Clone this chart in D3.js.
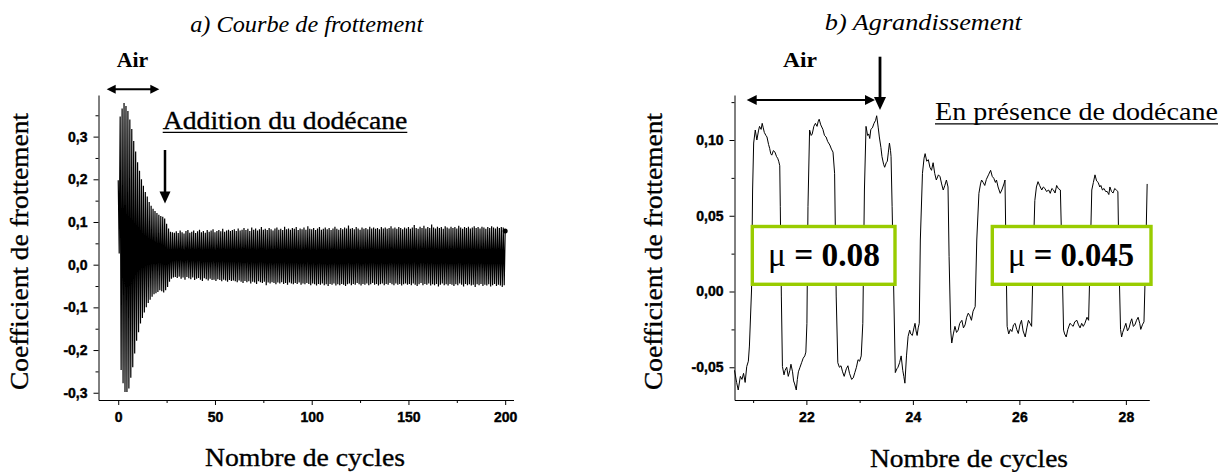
<!DOCTYPE html>
<html>
<head>
<meta charset="utf-8">
<script src="https://cdn.jsdelivr.net/npm/d3@7"></script>
<style>
  body { margin: 0; background: #fff; }
  .serif { font-family: "Liberation Serif", "Times New Roman", serif; fill: #000; }
  .heavy { stroke: #000; stroke-width: 0.35px; }
  .axis path, .axis line { stroke: #000; }
</style>
</head>
<body>
<svg id="fig" width="1222" height="472"></svg>
<script>
// ---- data, left panel: peak values of each cycle (cycles 0..200)
var leftUpper = [
  0.198,0.347,0.366,0.379,0.372,0.360,0.340,0.318,0.290,0.265,
  0.240,0.220,0.200,0.185,0.170,0.160,0.147,0.138,0.131,0.126,
  0.121,0.117,0.114,0.112,0.108,0.096,0.085,0.077,0.076,0.075,
  0.078,0.074,0.080,0.076,0.073,0.079,0.081,0.075,0.077,0.080,
  0.074,0.078,0.082,0.076,0.079,0.075,0.081,0.077,0.080,0.083,
  0.076,0.079,0.081,0.078,0.084,0.077,0.080,0.082,0.079,0.081,
  0.083,0.079,0.085,0.080,0.082,0.086,0.081,0.084,0.079,0.087,
  0.082,0.085,0.080,0.083,0.088,0.082,0.084,0.081,0.086,0.083,
  0.080,0.085,0.087,0.082,0.084,0.081,0.089,0.083,0.085,0.082,
  0.086,0.084,0.088,0.081,0.085,0.083,0.087,0.082,0.090,0.084,
  0.083,0.086,0.081,0.085,0.088,0.082,0.084,0.087,0.083,0.086,
  0.081,0.085,0.089,0.084,0.082,0.086,0.083,0.087,0.085,0.092,
  0.084,0.086,0.083,0.088,0.085,0.082,0.087,0.084,0.086,0.083,
  0.089,0.085,0.087,0.084,0.086,0.083,0.088,0.085,0.087,0.084,
  0.086,0.090,0.085,0.087,0.084,0.088,0.086,0.083,0.087,0.085,
  0.088,0.084,0.087,0.093,0.086,0.084,0.089,0.086,0.091,0.085,
  0.088,0.086,0.094,0.087,0.085,0.089,0.086,0.088,0.084,0.090,
  0.087,0.085,0.089,0.086,0.088,0.085,0.091,0.087,0.084,0.088,
  0.086,0.089,0.085,0.087,0.090,0.086,0.088,0.085,0.089,0.087,
  0.084,0.088,0.086,0.090,0.087,0.085,0.089,0.086,0.088,0.087,
  0.079
];
var leftLower = [
  0.026,-0.247,-0.278,-0.298,-0.298,-0.290,-0.265,-0.240,-0.208,-0.178,
  -0.158,-0.138,-0.125,-0.112,-0.100,-0.090,-0.082,-0.075,-0.069,-0.067,
  -0.064,-0.060,-0.062,-0.065,-0.060,-0.052,-0.040,-0.033,-0.030,-0.029,
  -0.031,-0.028,-0.033,-0.030,-0.035,-0.029,-0.032,-0.034,-0.030,-0.036,
  -0.033,-0.031,-0.035,-0.038,-0.032,-0.034,-0.037,-0.033,-0.036,-0.035,
  -0.038,-0.034,-0.036,-0.039,-0.035,-0.037,-0.040,-0.036,-0.038,-0.037,
  -0.039,-0.041,-0.037,-0.040,-0.043,-0.038,-0.041,-0.039,-0.044,-0.040,
  -0.042,-0.045,-0.039,-0.041,-0.043,-0.040,-0.048,-0.042,-0.044,-0.041,
  -0.043,-0.046,-0.042,-0.044,-0.041,-0.045,-0.043,-0.047,-0.042,-0.044,
  -0.046,-0.043,-0.045,-0.042,-0.047,-0.044,-0.046,-0.043,-0.045,-0.048,
  -0.044,-0.046,-0.049,-0.045,-0.047,-0.044,-0.048,-0.046,-0.050,-0.045,
  -0.047,-0.044,-0.049,-0.046,-0.048,-0.045,-0.047,-0.050,-0.046,-0.044,
  -0.048,-0.045,-0.047,-0.043,-0.046,-0.049,-0.045,-0.047,-0.044,-0.048,
  -0.046,-0.043,-0.047,-0.045,-0.049,-0.046,-0.044,-0.048,-0.045,-0.047,
  -0.043,-0.046,-0.048,-0.044,-0.047,-0.045,-0.049,-0.046,-0.044,-0.047,
  -0.045,-0.048,-0.044,-0.047,-0.050,-0.046,-0.043,-0.048,-0.045,-0.047,
  -0.044,-0.049,-0.046,-0.048,-0.045,-0.051,-0.047,-0.044,-0.048,-0.046,
  -0.049,-0.045,-0.047,-0.050,-0.046,-0.048,-0.044,-0.047,-0.051,-0.045,
  -0.048,-0.046,-0.049,-0.047,-0.052,-0.046,-0.048,-0.045,-0.050,-0.047,
  -0.049,-0.046,-0.051,-0.048,-0.045,-0.050,-0.047,-0.049,-0.052,-0.048,
  -0.046
];
var leftXTicks = [0, 50, 100, 150, 200];
var leftXMinor = [25, 75, 125, 175];
var leftYTicks = [-0.3, -0.2, -0.1, 0.0, 0.1, 0.2, 0.3];
var leftYMinor = [-0.25, -0.15, -0.05, 0.05, 0.15, 0.25, 0.35];

// ---- data, right panel (zoom on cycles 20.6 - 28.4)
var rightCycles = [
  20.65,20.69,20.72,20.76,20.79,20.82,20.85,20.88,20.91,20.93,20.97,20.99,21.01,21.04,21.07,21.10,21.12,21.15,21.17,21.19,
  21.21,21.24,21.26,21.29,21.31,21.33,21.35,21.38,21.41,21.44,21.46,21.48,21.50,21.51,21.53,21.55,21.58,21.60,21.63,21.66,
  21.69,21.71,21.74,21.76,21.78,21.81,21.83,21.85,21.88,21.91,21.94,21.97,21.99,22.01,22.03,22.06,22.09,22.11,22.14,22.17,
  22.20,22.22,22.24,22.27,22.31,22.34,22.37,22.40,22.44,22.47,22.50,22.53,22.56,22.59,22.62,22.65,22.68,22.71,22.75,22.78,
  22.81,22.85,22.88,22.91,22.94,22.97,23.00,23.03,23.06,23.09,23.12,23.15,23.17,23.19,23.21,23.24,23.27,23.30,23.32,23.35,
  23.37,23.40,23.42,23.45,23.47,23.50,23.52,23.54,23.56,23.58,23.59,23.61,23.64,23.67,23.70,23.72,23.75,23.78,23.81,23.83,
  23.85,23.88,23.91,23.94,23.96,23.99,24.02,24.04,24.06,24.08,24.10,24.12,24.14,24.18,24.21,24.23,24.26,24.29,24.32,24.35,
  24.38,24.41,24.44,24.48,24.51,24.54,24.57,24.60,24.63,24.66,24.68,24.71,24.73,24.76,24.79,24.82,24.85,24.88,24.92,24.95,
  24.98,25.01,25.04,25.07,25.10,25.13,25.17,25.20,25.24,25.27,25.29,25.32,25.35,25.38,25.42,25.46,25.49,25.52,25.55,25.57,
  25.60,25.64,25.67,25.69,25.71,25.73,25.75,25.77,25.80,25.83,25.86,25.89,25.92,25.95,25.98,26.01,26.04,26.07,26.11,26.14,
  26.17,26.20,26.23,26.26,26.29,26.32,26.35,26.38,26.42,26.45,26.48,26.51,26.55,26.58,26.61,26.64,26.67,26.70,26.73,26.77,
  26.80,26.83,26.85,26.88,26.91,26.95,26.98,27.01,27.04,27.08,27.11,27.14,27.17,27.20,27.23,27.27,27.30,27.33,27.36,27.39,
  27.42,27.45,27.48,27.51,27.53,27.56,27.59,27.62,27.65,27.68,27.70,27.73,27.76,27.79,27.82,27.85,27.87,27.90,27.92,27.94,
  27.97,28.00,28.03,28.06,28.09,28.11,28.14,28.17,28.20,28.23,28.26,28.28,28.31,28.34,28.37,28.40
];
var rightValues = [
  -0.052,-0.060,-0.065,-0.056,-0.058,-0.054,-0.060,-0.0495,-0.046,-0.036,0.001,0.067,0.098,0.1066,0.100,0.106,0.109,0.107,0.111,0.108,
  0.105,0.103,0.102,0.097,0.0945,0.091,0.090,0.093,0.092,0.089,0.088,0.086,0.083,0.056,-0.003,-0.0495,-0.055,-0.052,-0.050,-0.056,
  -0.052,-0.048,-0.053,-0.059,-0.061,-0.065,-0.058,-0.053,-0.050,-0.047,-0.044,-0.0425,-0.040,-0.021,0.056,0.1066,0.103,0.104,0.109,0.111,
  0.109,0.112,0.1137,0.110,0.107,0.103,0.102,0.099,0.0967,0.094,0.092,0.078,-0.003,-0.047,-0.050,-0.049,-0.053,-0.056,-0.051,-0.049,
  -0.054,-0.058,-0.057,-0.0535,-0.050,-0.045,-0.046,-0.0425,-0.021,0.067,0.109,0.103,0.104,0.101,0.107,0.108,0.111,0.113,0.116,0.108,
  0.102,0.095,0.089,0.084,0.082,0.085,0.086,0.092,0.098,0.093,0.089,0.056,0.001,-0.0535,-0.051,-0.050,-0.047,-0.0425,-0.052,-0.056,
  -0.0605,-0.0425,-0.0297,-0.0255,-0.028,-0.029,-0.024,-0.021,-0.026,-0.029,-0.024,-0.021,0.034,0.078,0.088,0.091,0.086,0.087,0.082,0.080,
  0.085,0.078,0.0736,0.077,0.0758,0.071,0.067,0.070,0.0736,0.069,0.023,-0.0255,-0.034,-0.028,-0.023,-0.027,-0.0255,-0.021,-0.019,-0.024,
  -0.022,-0.017,-0.0143,-0.016,-0.019,-0.013,-0.010,0.034,0.0648,0.071,0.0736,0.072,0.070,0.074,0.077,0.080,0.076,0.0747,0.072,0.0736,
  0.069,0.0648,0.067,0.069,0.071,0.0736,0.023,-0.023,-0.028,-0.025,-0.0264,-0.022,-0.021,-0.025,-0.0277,-0.022,-0.019,-0.026,-0.030,-0.024,
  -0.019,-0.021,-0.023,0.023,0.060,0.069,0.0725,0.070,0.067,0.069,0.068,0.066,0.067,0.0648,0.068,0.067,0.065,0.070,0.068,0.067,
  0.023,-0.0255,-0.028,-0.030,-0.025,-0.021,-0.022,-0.023,-0.020,-0.019,-0.022,-0.024,-0.021,-0.023,-0.021,-0.017,-0.019,0.023,0.067,0.072,
  0.077,0.073,0.072,0.069,0.070,0.067,0.068,0.066,0.066,0.064,0.069,0.066,0.065,0.068,0.067,0.066,0.020,-0.025,-0.030,-0.027,
  -0.024,-0.021,-0.026,-0.024,-0.020,-0.018,-0.023,-0.022,-0.019,-0.017,-0.021,-0.025,-0.022,-0.020,0.020,0.071
];
var rightXTicks = [22, 24, 26, 28];
var rightXMinor = [21, 23, 25, 27];
var rightYTicks = [-0.05, 0.00, 0.05, 0.10];
var rightYMinor = [-0.025, 0.025, 0.075, 0.125];

var svg = d3.select("#fig");

// scales
var xLeft = d3.scaleLinear().domain([-10.2, 204.3]).range([98.5, 513.5]);
var yLeft = d3.scaleLinear().domain([-0.317, 0.3975]).range([400, 95]);
var xRight = d3.scaleLinear().domain([20.65, 28.44]).range([734.5, 1149.3]);
var yRight = d3.scaleLinear().domain([-0.0716, 0.1297]).range([400, 95]);

function comma(n) {
  return function(v) { return v.toFixed(n).replace(".", ","); };
}

function boldTicks(g) {
  g.selectAll("text")
    .style("font-family", "'Liberation Sans', Arial, sans-serif")
    .style("font-weight", "bold")
    .style("font-size", "14px")
    .style("fill", "#000")
    .style("stroke", "#000")
    .style("stroke-width", "0.4px");
}

// axes (major ticks labelled, minor ticks short)
function drawAxes(x, y, xt, xm, yt, ym, fmt) {
  var y0 = y.range()[0], x0 = x.range()[0];
  svg.append("g").attr("class", "axis")
    .attr("transform", `translate(0,${y0})`)
    .call(d3.axisBottom(x).tickValues(xt).tickSize(5).tickSizeOuter(0).tickPadding(7).tickFormat(d3.format("d")))
    .call(boldTicks);
  svg.append("g").attr("class", "axis minor")
    .attr("transform", `translate(0,${y0})`)
    .call(d3.axisBottom(x).tickValues(xm).tickSize(3).tickFormat(""))
    .select(".domain").remove();
  svg.append("g").attr("class", "axis")
    .attr("transform", `translate(${x0},0)`)
    .call(d3.axisLeft(y).tickValues(yt).tickSize(5).tickSizeOuter(0).tickPadding(6).tickFormat(fmt))
    .call(boldTicks);
  svg.append("g").attr("class", "axis minor")
    .attr("transform", `translate(${x0},0)`)
    .call(d3.axisLeft(y).tickValues(ym).tickSize(3).tickFormat(""))
    .select(".domain").remove();
}
drawAxes(xLeft, yLeft, leftXTicks, leftXMinor, leftYTicks, leftYMinor, comma(1));
drawAxes(xRight, yRight, rightXTicks, rightXMinor, rightYTicks, rightYMinor, comma(2));

// left trace: each cycle goes to its peak then to its trough
var leftPoints = [];
leftUpper.forEach(function(u, i) {
  leftPoints.push([i, u]);
  if (i < leftUpper.length - 1) leftPoints.push([i + 0.5, leftLower[i]]);
});
svg.append("path")
  .datum(leftPoints)
  .attr("fill", "none")
  .attr("stroke", "#000")
  .attr("stroke-width", 1.2)
  .attr("d", d3.line().x(d => xLeft(d[0])).y(d => yLeft(d[1])));
var last = leftPoints[leftPoints.length - 1];
svg.append("circle")
  .attr("cx", xLeft(last[0])).attr("cy", yLeft(last[1])).attr("r", 2.5).attr("fill", "#000");

// right trace
svg.append("path")
  .datum(rightCycles.map((c, i) => [c, rightValues[i]]))
  .attr("fill", "none")
  .attr("stroke", "#000")
  .attr("stroke-width", 1)
  .attr("d", d3.line().x(d => xRight(d[0])).y(d => yRight(d[1])));

// text helper
function label(x, y, txt, size, opts) {
  opts = opts || {};
  var t = svg.append("text")
    .attr("class", opts.heavy ? "serif heavy" : "serif")
    .attr("x", x).attr("y", y)
    .attr("font-size", size)
    .attr("text-anchor", opts.anchor || "middle")
    .text(txt);
  if (opts.italic) t.attr("font-style", "italic");
  if (opts.bold) t.attr("font-weight", "bold");
  if (opts.width) t.attr("textLength", opts.width).attr("lengthAdjust", "spacingAndGlyphs");
  if (opts.rotate) t.attr("transform", `rotate(-90,${x},${y})`);
  return t;
}

// titles
label(306.7, 31.5, "a) Courbe de frottement", 24, {italic: true, width: 233});
label(923.3, 30, "b) Agrandissement", 24, {italic: true, width: 197});

// axis titles
label(28, 251.5, "Coefficient de frottement", 26, {width: 277, rotate: true, heavy: true});
label(662, 251.5, "Coefficient de frottement", 26, {width: 277, rotate: true, heavy: true});
label(305, 466, "Nombre de cycles", 26, {width: 200, heavy: true});
label(969, 466.5, "Nombre de cycles", 26, {width: 198, heavy: true});

// annotations
label(132.5, 66.5, "Air", 21, {bold: true, width: 31.5});
label(800, 66.5, "Air", 21, {bold: true, width: 34});
label(162.7, 129.3, "Addition du dodécane", 26, {anchor: "start", width: 244.7, heavy: true});
svg.append("line").attr("x1", 162.7).attr("x2", 407.3).attr("y1", 132.3).attr("y2", 132.3)
  .attr("stroke", "#000").attr("stroke-width", 1.3);
label(935, 120, "En présence de dodécane", 26, {anchor: "start", width: 283});
svg.append("line").attr("x1", 935).attr("x2", 1218).attr("y1", 123.8).attr("y2", 123.8)
  .attr("stroke", "#000").attr("stroke-width", 1.3);

// arrows
function head(tx, ty, dx, dy, len, half) {
  var l = Math.hypot(dx, dy), ux = dx / l, uy = dy / l;
  var bx = tx - ux * len, by = ty - uy * len;
  svg.append("path")
    .attr("d", `M${tx},${ty}L${bx - uy * half},${by + ux * half}L${bx + uy * half},${by - ux * half}Z`)
    .attr("fill", "#000");
}
function arrow(x1, y1, x2, y2, w, len, half, both) {
  var l = Math.hypot(x2 - x1, y2 - y1), ux = (x2 - x1) / l, uy = (y2 - y1) / l;
  svg.append("line")
    .attr("x1", both ? x1 + ux * (len - 2) : x1).attr("y1", both ? y1 + uy * (len - 2) : y1)
    .attr("x2", x2 - ux * (len - 2)).attr("y2", y2 - uy * (len - 2))
    .attr("stroke", "#000").attr("stroke-width", w);
  head(x2, y2, ux, uy, len, half);
  if (both) head(x1, y1, -ux, -uy, len, half);
}
arrow(106.7, 89.3, 159.3, 89.3, 2, 9, 4.5, true);
arrow(746.7, 100, 875, 100, 2, 10, 5, true);
arrow(165, 150, 165, 203.5, 2.5, 12, 5.5, false);
arrow(880, 56.7, 880, 110, 2.8, 13, 6, false);

// mu boxes
function muBox(x1, x2, txt, cx, w) {
  svg.append("rect")
    .attr("x", x1).attr("y", 226.5)
    .attr("width", x2 - x1).attr("height", 57.8)
    .attr("fill", "#fff").attr("stroke", "#99cc00").attr("stroke-width", 3.4);
  var t = svg.append("text").attr("class", "serif")
    .attr("x", cx).attr("y", 265.7)
    .attr("font-size", 34)
    .attr("text-anchor", "middle")
    .attr("textLength", w).attr("lengthAdjust", "spacingAndGlyphs");
  t.append("tspan").text("\u03bc ");
  t.append("tspan").attr("font-weight", "bold").text("= " + txt);
}
muBox(752.3, 895, "0.08", 824, 112);
muBox(992.3, 1151, "0.045", 1071, 126);
</script>
</body>
</html>
